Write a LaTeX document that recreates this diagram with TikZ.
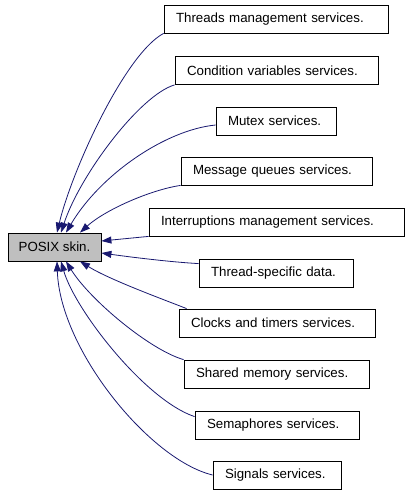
\documentclass[tikz,border=0pt]{standalone}
\usepackage{fontspec}
\setmainfont{Liberation Sans}
\usetikzlibrary{arrows.meta}
\definecolor{navy}{HTML}{191970}
\definecolor{boxgray}{HTML}{BFBFBF}
\tikzset{
    box/.style={draw=black,line width=.8bp,rectangle,minimum height=28bp,inner ysep=0pt,
        inner xsep=12bp,align=left,font=\fontsize{13.3bp}{15bp}\selectfont},
    dep/.style={draw=navy,line width=.8bp,-{Triangle[length=10bp,width=7bp]},navy}
}
\begin{document}
\begin{tikzpicture}[x=1bp,y=-1bp]
    \useasboundingbox (0,0) rectangle (408,493);

    \node[box,fill=boxgray,inner xsep=0pt,minimum width=93bp] (posix) at (54.5,247){POSIX skin.};

    \node[box,text width=200bp] (threads) at (276,19){Threads management services.};
    \node[box,text width=179bp] (cond) at (276.5,70.5){Condition variables services.};
    \node[box,text width=96bp] (mutex) at (276,121){Mutex services.};
    \node[box,text width=167bp] (msgq) at (276.5,171){Message queues services.};
    \node[box,text width=231bp] (intr) at (276.5,222){Interruptions management services.};
    \node[box,text width=130bp] (tsd) at (276,273){Thread-specific data.};
    \node[box,text width=172bp] (clocks) at (277,323){Clocks and timers services.};
    \node[box,text width=161bp] (shm) at (276.5,374){Shared memory services.};
    \node[box,text width=140bp] (sem) at (277,425){Semaphores services.};
    \node[box,text width=104bp] (sig) at (277,475){Signals services.};

    \draw[dep] (threads.south west) .. controls (125,54) and (72,170) .. ([xshift=2.5bp]posix.north);
    \draw[dep] (cond.south west) .. controls (140,95) and (80,175) .. ([xshift=6.5bp]posix.north);
    \draw[dep] ([yshift=-4bp]mutex.west) .. controls (165,130) and (100,175) .. ([xshift=11.5bp]posix.north);
    \draw[dep] (msgq.south west) .. controls (150,190) and (105,210) .. ([xshift=25.5bp]posix.north);
    \draw[dep] (intr.south west) -- ([yshift=6bp]posix.east);
    \draw[dep] ([yshift=-5bp]tsd.north west) .. controls (170,262) and (130,257) .. ([yshift=-6bp]posix.east);
    \draw[dep] ([xshift=8bp]clocks.north west) .. controls (165,300) and (110,280) .. ([xshift=25.5bp]posix.south);
    \draw[dep] (shm.north west) .. controls (150,350) and (90,300) .. ([xshift=11.5bp]posix.south);
    \draw[dep] ([yshift=-6bp]sem.north west) .. controls (145,400) and (75,310) .. ([xshift=6.5bp]posix.south);
    \draw[dep] (sig.west) .. controls (150,460) and (60,350) .. ([xshift=2.5bp]posix.south);
\end{tikzpicture}
\end{document}
